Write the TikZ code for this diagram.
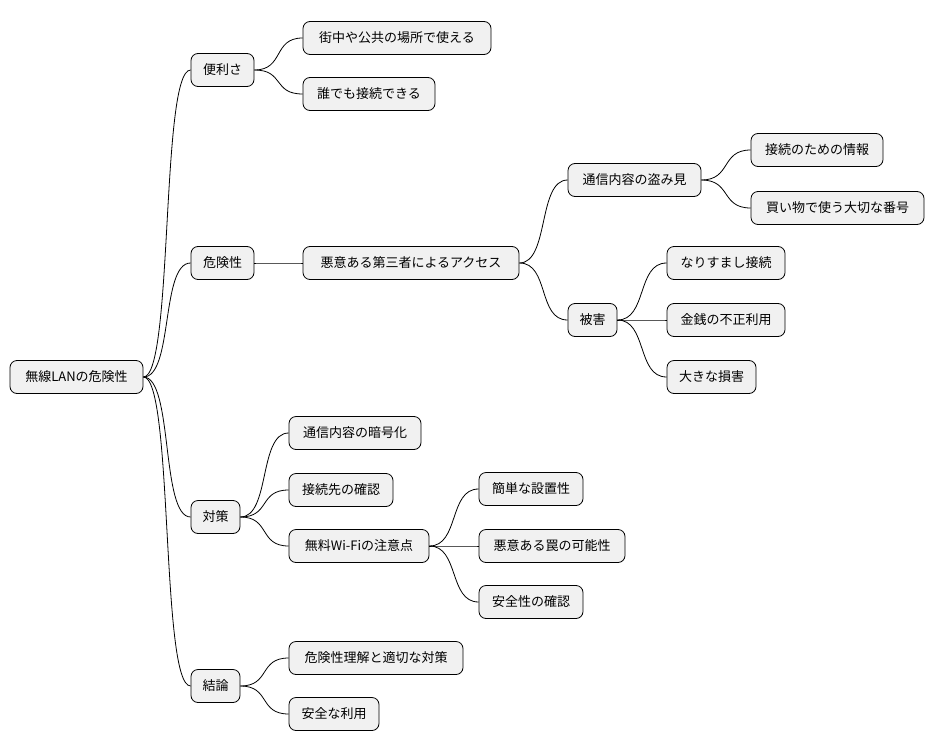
\documentclass[tikz,border=0pt]{standalone}
\usepackage{fontspec}
\setmainfont{Noto Sans CJK JP}
\begin{document}
\begin{tikzpicture}[x=1pt,y=-1pt,
  box/.style={draw=black,fill={rgb,255:red,241;green,241;blue,241},rounded corners=7pt,line width=0.8pt,minimum height=33pt,inner sep=0pt,font=\fontsize{13}{15}\selectfont},
  link/.style={line width=0.8pt}]
\useasboundingbox (0,0) rectangle (936,752);
\newcommand\bx[6]{\node[box,minimum width={#4-#3}] (#1) at ({(#3+#4)/2},#5) {#6};}
\bx{root}{}{10}{143}{377}{無線LANの危険性}
\bx{a}{}{191}{254}{70}{便利さ}
\bx{a1}{}{303}{491}{38}{街中や公共の場所で使える}
\bx{a2}{}{303}{435}{94}{誰でも接続できる}
\bx{b}{}{191}{254}{263}{危険性}
\bx{b1}{}{303}{519}{263}{悪意ある第三者によるアクセス}
\bx{c}{}{568}{701}{180}{通信内容の盗み見}
\bx{c1}{}{751}{883}{150}{接続のための情報}
\bx{c2}{}{751}{924}{208}{買い物で使う大切な番号}
\bx{d}{}{568}{617}{320}{被害}
\bx{d1}{}{667}{785}{263}{なりすまし接続}
\bx{d2}{}{667}{785}{320}{金銭の不正利用}
\bx{d3}{}{667}{756}{377}{大きな損害}
\bx{e}{}{191}{240}{517}{対策}
\bx{e1}{}{289}{421}{433}{通信内容の暗号化}
\bx{e2}{}{289}{393}{490}{接続先の確認}
\bx{e3}{}{289}{429}{546}{無料Wi-Fiの注意点}
\bx{f1}{}{479}{583}{489}{簡単な設置性}
\bx{f2}{}{479}{625}{546}{悪意ある罠の可能性}
\bx{f3}{}{479}{583}{602}{安全性の確認}
\bx{g}{}{191}{240}{686}{結論}
\bx{g1}{}{289}{463}{658}{危険性理解と適切な対策}
\bx{g2}{}{289}{379}{714}{安全な利用}
\newcommand\lk[2]{\draw[link] (#1.east) .. controls +(30,0) and +(-30,0) .. (#2.west);}
\foreach \p/\c in {root/a,root/b,root/e,root/g,a/a1,a/a2,b/b1,b1/c,b1/d,c/c1,c/c2,d/d1,d/d2,d/d3,e/e1,e/e2,e/e3,e3/f1,e3/f2,e3/f3,g/g1,g/g2}{\lk{\p}{\c}}
\end{tikzpicture}
\end{document}
